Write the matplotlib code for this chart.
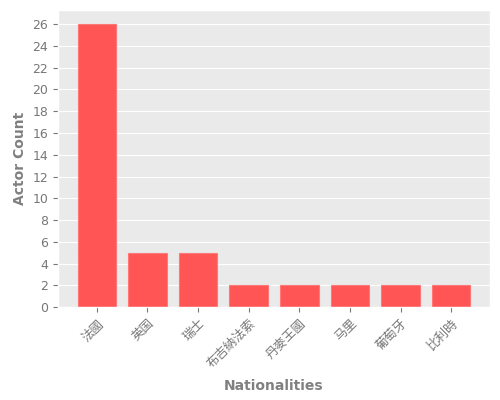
import matplotlib
matplotlib.use('Agg')
import matplotlib.pyplot as plt

plt.style.use('ggplot')
plt.rcParams['font.family'] = ['Noto Sans CJK SC', 'DejaVu Sans']

nationalities = ['法國', '英国', '瑞士', '布吉納法索', '丹麥王國', '马里', '葡萄牙', '比利時']
actor_count = [26, 5, 5, 2, 2, 2, 2, 2]

fig, ax = plt.subplots(figsize=(5, 4), dpi=100)
ax.set_facecolor('#eaeaea')
ax.bar(nationalities, actor_count, width=0.76, color='#ff5555', edgecolor='#ff7777', linewidth=0.8)
ax.grid(axis='x', visible=False)
ax.set_yticks(range(0, 27, 2))
ax.set_ylim(0, 27.3)
plt.xticks(rotation=45, ha='right', va='top', rotation_mode='anchor')
ax.tick_params(axis='x', labelsize=9, colors='#777777')
ax.tick_params(axis='y', labelsize=9, colors='#777777')
for lbl in ax.get_yticklabels():
    lbl.set_family('DejaVu Sans')
ax.set_xlabel('Nationalities', fontsize=10, fontweight='bold', color='#808080', family='DejaVu Sans', labelpad=6)
ax.set_ylabel('Actor Count', fontsize=10, fontweight='bold', color='#808080', family='DejaVu Sans')
plt.subplots_adjust(left=0.116, right=0.98, top=0.975, bottom=0.232)
plt.savefig('out.png')
